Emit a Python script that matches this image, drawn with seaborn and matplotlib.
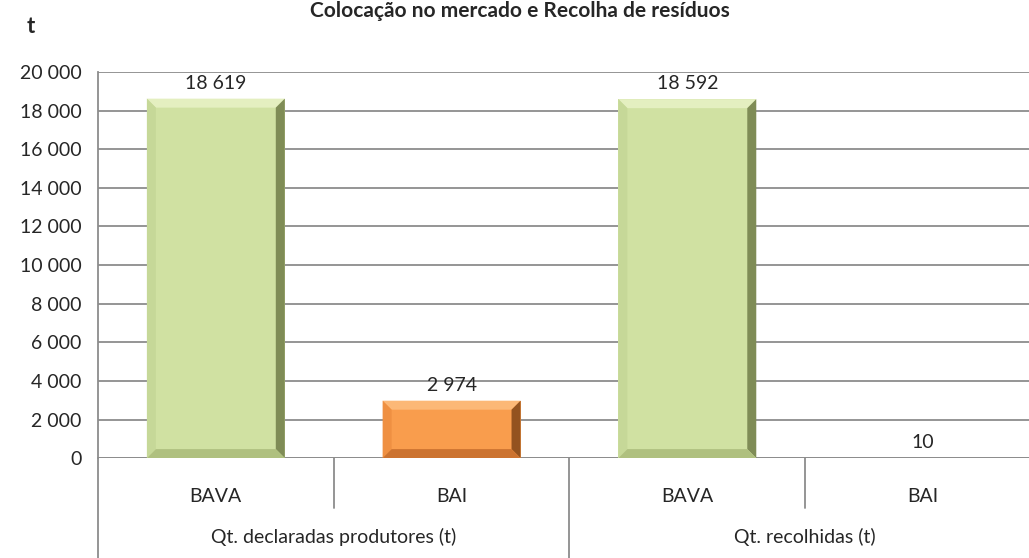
import matplotlib
matplotlib.use("Agg")
import matplotlib.pyplot as plt
import matplotlib.transforms as mtransforms
from matplotlib.patches import Polygon
import seaborn as sns
import pandas as pd

# data
groups = ["Qt. declaradas produtores (t)", "Qt. recolhidas (t)"]
types = ["BAVA", "BAI", "BAVA", "BAI"]
values = [18619, 2974, 18592, 10]
bar_colors = ["#D0E1A2", "#F99D4D", "#D0E1A2", "#F99D4D"]
# bevel shades: top, left, right, bottom
bevels = {
    "#D0E1A2": ["#E4EFC0", "#C6D898", "#7F8C56", "#AFC07F"],
    "#F99D4D": ["#FCB877", "#EF9042", "#93521F", "#CC7330"],
}
yticks = list(range(0, 20001, 2000))

sns.set_style("white")
plt.rcParams["font.family"] = ["Lato", "DejaVu Sans"]
FS = 14

def fmt(v):
    return f"{v:,}".replace(",", " ")

df = pd.DataFrame({"pos": [str(i) for i in range(len(values))], "val": values})

fig = plt.figure(figsize=(10.29, 5.58), dpi=100)
# plot area runs past the right edge of the picture, as in the original
ax = fig.add_axes([0.0952, 0.179, 0.9164, 0.692])

sns.barplot(data=df, x="pos", y="val", hue="pos", palette=bar_colors,
            width=0.585, legend=False, ax=ax, saturation=1)

ax.set_xlim(-0.5, len(values) - 0.5)
ax.set_ylim(0, 20000)
ax.set_yticks(yticks)
ax.set_yticklabels([fmt(t) for t in yticks], fontsize=FS)
ax.yaxis.grid(True, color="#8C8C8C", linewidth=1.3, zorder=0)
ax.set_axisbelow(True)
ax.tick_params(axis="y", length=6, color="#8C8C8C", pad=6)
ax.set_xticks([])
ax.set_xlabel("")
ax.set_ylabel("")
for s in ["top", "right", "bottom"]:
    ax.spines[s].set_visible(False)
ax.spines["left"].set_color("#8C8C8C")
ax.spines["left"].set_linewidth(1.3)
ax.axhline(0, color="#8C8C8C", linewidth=1.3, zorder=2)

# bevelled look on each bar, built from the bar geometry
fig.canvas.draw()
inv = ax.transData.inverted()
for patch, col in zip(ax.patches, bar_colors):
    patch.set_linewidth(0)
    patch.set_zorder(3)
    (x0, y0), (x1, y1) = ax.transData.transform(
        [(patch.get_x(), patch.get_y()), (patch.get_x() + patch.get_width(), patch.get_y() + patch.get_height())])
    b = min(9, (y1 - y0) / 2, (x1 - x0) / 2)
    if b < 1:
        continue
    top, left, right, bottom = bevels[col]
    shapes = [
        ([(x0, y1), (x1, y1), (x1 - b, y1 - b), (x0 + b, y1 - b)], top),
        ([(x0, y0), (x0, y1), (x0 + b, y1 - b), (x0 + b, y0 + b)], left),
        ([(x1, y0), (x1, y1), (x1 - b, y1 - b), (x1 - b, y0 + b)], right),
        ([(x0, y0), (x1, y0), (x1 - b, y0 + b), (x0 + b, y0 + b)], bottom),
    ]
    for pts, c in shapes:
        ax.add_patch(Polygon(inv.transform(pts), closed=True, facecolor=c,
                             edgecolor="none", zorder=4))

# value labels
for i, v in enumerate(values):
    ax.annotate(fmt(v), (i, v), xytext=(0, 5), textcoords="offset points",
                ha="center", va="bottom", fontsize=FS, zorder=5)

# multi-level category axis
trans = mtransforms.blended_transform_factory(ax.transData, ax.transAxes)
for i, t in enumerate(types):
    ax.text(i, -0.10, t, transform=trans, ha="center", va="center", fontsize=FS)
for g, name in enumerate(groups):
    ax.text(2 * g + 0.5, -0.205, name, transform=trans, ha="center", va="center", fontsize=FS)
for x in [0.5, 2.5]:
    ax.plot([x, x], [0, -0.13], transform=trans, color="#8C8C8C", lw=1.3, clip_on=False)
for x in [-0.5, 1.5]:
    ax.plot([x, x], [0, -0.26], transform=trans, color="#8C8C8C", lw=1.3, clip_on=False)

fig.text(0.505, 0.999, "Colocação no mercado e Recolha de resíduos", ha="center", va="top",
         fontsize=15, fontweight="bold")
fig.text(0.03, 0.953, "t", ha="center", va="center", fontsize=16, fontweight="bold")

fig.savefig("out.png", dpi=100)
